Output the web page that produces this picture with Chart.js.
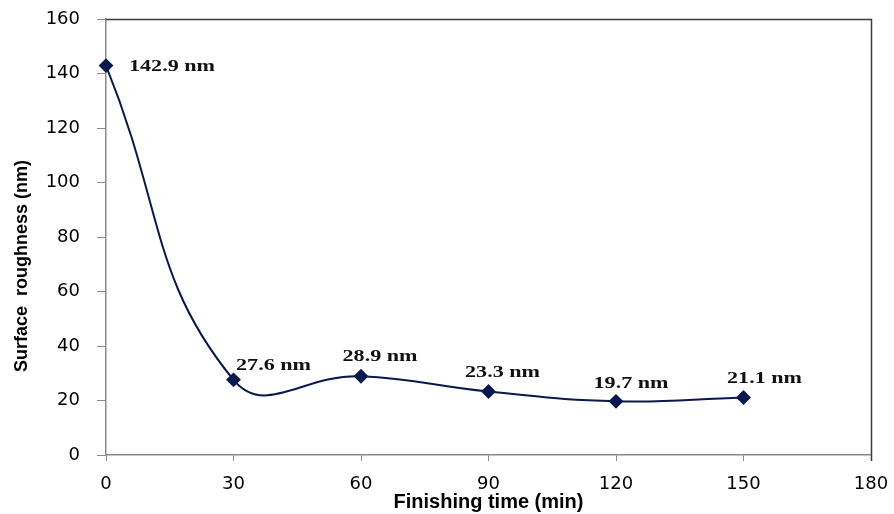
<!DOCTYPE html>
<html>
<head>
<meta charset="utf-8">
<script src="https://cdn.jsdelivr.net/npm/chart.js@4.4.1/dist/chart.umd.min.js"></script>
<style>
  html, body { margin: 0; padding: 0; background: #ffffff; }
  #wrap { width: 894px; height: 514px; }
</style>
</head>
<body>
<div id="wrap"><canvas id="miGraficaRugosidad" width="894" height="514"></canvas></div>
<script>
// datos
var tiempos = [0, 30, 60, 90, 120, 150];
var rugosidad = [142.9, 27.6, 28.9, 23.3, 19.7, 21.1];
var etiquetas = ['142.9 nm', '27.6 nm', '28.9 nm', '23.3 nm', '19.7 nm', '21.1 nm'];
var ticksX = [0, 30, 60, 90, 120, 150, 180];
var ticksY = [0, 20, 40, 60, 80, 100, 120, 140, 160];

// desplazamiento de cada etiqueta respecto a su punto (px)
var desplazEtiquetas = [[66, 1], [40, -14], [19, -20], [14, -19], [15, -18], [21, -19]];

var colorLinea = 'rgb(10, 24, 80)';

var puntos = new Array();
for (let i = 0; i < tiempos.length; i++) {
  puntos.push({ x: tiempos[i], y: rugosidad[i] });
}

// marco superior/derecho, etiquetas de los puntos y titulo del eje y
var pluginExtras = {
  id: 'extras',
  beforeDatasetsDraw: function (chart) {
    var ctx = chart.ctx;
    var a = chart.chartArea;
    ctx.save();
    ctx.strokeStyle = '#3c3c3c';
    ctx.lineWidth = 1.5;
    ctx.beginPath();
    ctx.moveTo(a.left, a.top + 0.5);
    ctx.lineTo(a.right + 0.5, a.top + 0.5);
    ctx.lineTo(a.right + 0.5, a.bottom + 6);
    ctx.stroke();
    ctx.restore();
  },
  afterDatasetsDraw: function (chart) {
    var ctx = chart.ctx;
    var sx = chart.scales.x;
    var sy = chart.scales.y;
    ctx.save();
    ctx.fillStyle = '#111111';
    ctx.font = 'bold 17px "Liberation Serif", "DejaVu Serif", serif';
    ctx.textAlign = 'center';
    ctx.textBaseline = 'middle';
    for (let i = 0; i < tiempos.length; i++) {
      var px = sx.getPixelForValue(tiempos[i]) + desplazEtiquetas[i][0];
      var py = sy.getPixelForValue(rugosidad[i]) + desplazEtiquetas[i][1];
      ctx.save();
      ctx.translate(px, py);
      ctx.scale(1.3, 1);
      ctx.fillText(etiquetas[i], 0, 0);
      ctx.restore();
    }
    ctx.restore();

    ctx.save();
    ctx.fillStyle = '#000000';
    ctx.font = 'bold 18px "Liberation Sans", Arial, sans-serif';
    ctx.textAlign = 'center';
    ctx.textBaseline = 'middle';
    ctx.translate(22, 266);
    ctx.rotate(-Math.PI / 2);
    ctx.fillText('Surface  roughness (nm)', 0, 0);
    ctx.restore();
  }
};

let miCanvas = document.getElementById('miGraficaRugosidad').getContext('2d');

var grafica = new Chart(miCanvas, {
  type: 'line',
  data: {
    datasets: [{
      label: 'Surface roughness',
      data: puntos,
      borderColor: colorLinea,
      backgroundColor: colorLinea,
      borderWidth: 2,
      tension: 0.45,
      pointStyle: 'rectRot',
      pointRadius: 6,
      pointHoverRadius: 6,
      clip: false,
      fill: false
    }]
  },
  options: {
    responsive: false,
    animation: false,
    layout: { autoPadding: false, padding: { top: 19, right: 23, left: 0, bottom: 0 } },
    plugins: {
      legend: { display: false },
      tooltip: { enabled: false }
    },
    scales: {
      x: {
        type: 'linear',
        min: 0,
        max: 180,
        afterBuildTicks: function (scale) {
          scale.ticks = ticksX.map(function (v) { return { value: v }; });
        },
        afterFit: function (scale) {
          scale.height = 59;
          scale.paddingLeft = 0;
          scale.paddingRight = 0;
        },
        grid: { drawOnChartArea: false, drawTicks: true, tickLength: 6, color: '#8a8a8a' },
        border: { color: '#8a8a8a', width: 1.5 },
        ticks: {
          color: '#000000',
          padding: 13,
          maxRotation: 0,
          font: { family: '"DejaVu Sans", Verdana, sans-serif', size: 18 }
        },
        title: {
          display: true,
          text: 'Finishing time (min)',
          color: '#000000',
          padding: { top: 0, bottom: 0 },
          font: { family: '"Liberation Sans", Arial, sans-serif', size: 20, weight: 'bold' }
        }
      },
      y: {
        type: 'linear',
        min: 0,
        max: 160,
        afterBuildTicks: function (scale) {
          scale.ticks = ticksY.map(function (v) { return { value: v }; });
        },
        afterFit: function (scale) {
          scale.width = 106;
          scale.paddingTop = 0;
          scale.paddingBottom = 0;
        },
        grid: { drawOnChartArea: false, drawTicks: true, tickLength: 9, color: '#8a8a8a' },
        border: { color: '#8a8a8a', width: 1.5 },
        ticks: {
          color: '#000000',
          padding: 17,
          font: { family: '"DejaVu Sans", Verdana, sans-serif', size: 18 }
        }
      }
    }
  },
  plugins: [pluginExtras]
});
</script>
</body>
</html>
